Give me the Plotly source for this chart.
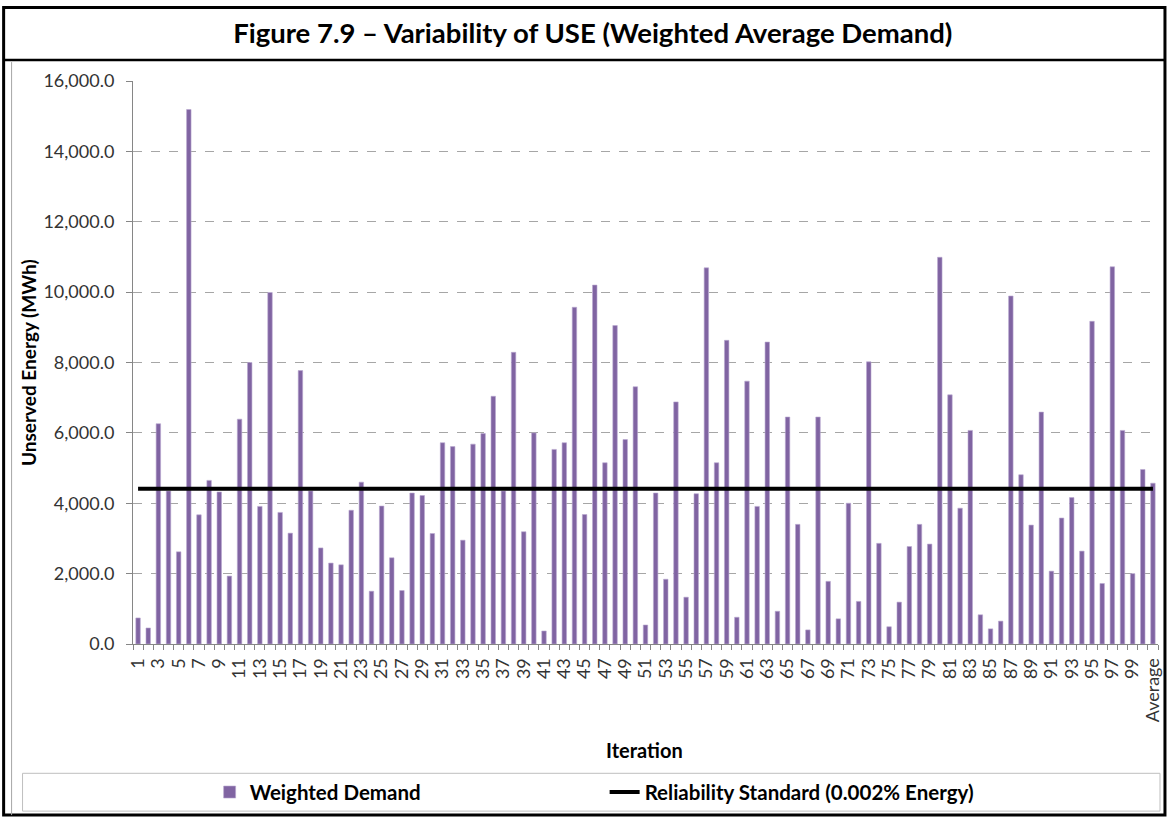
import plotly.graph_objects as go

categories = [str(i) for i in range(1, 101)] + ["Average"]
weighted_demand = [
    740, 455, 6260, 4350, 2620, 15190, 3670, 4650, 4320, 1930,
    6390, 8000, 3910, 9990, 3740, 3150, 7770, 4350, 2730, 2300,
    2250, 3800, 4600, 1500, 3920, 2450, 1520, 4290, 4220, 3140,
    5720, 5610, 2950, 5680, 5980, 7040, 4350, 8290, 3190, 6000,
    370, 5530, 5720, 9570, 3680, 10200, 5150, 9050, 5810, 7310,
    540, 4290, 1840, 6880, 1330, 4270, 10690, 5150, 8630, 760,
    7470, 3910, 8580, 930, 6450, 3400, 400, 6450, 1780, 715,
    4000, 1210, 8020, 2860, 490, 1190, 2770, 3400, 2840, 10990,
    7080, 3860, 6070, 830, 430, 650, 9890, 4810, 3380, 6590,
    2070, 3580, 4160, 2640, 9170, 1720, 10720, 6070, 2000, 4960,
    4570,
]
reliability_standard = [4410] * len(categories)
tick_labels = [c for i, c in enumerate(categories) if i % 2 == 0]

x_pos = list(range(1, len(categories) + 1))
tick_vals = [x for i, x in enumerate(x_pos) if i % 2 == 0]

FONT = "Lato"
W, H = 1172, 821
L, R, T, B = 133, 1163, 81, 647


def px(x):
    return (x - L) / (R - L)


def py(y):
    return (B - y) / (B - T)


fig = go.Figure()
fig.add_trace(go.Bar(
    x=x_pos, y=weighted_demand, name="<b>Weighted Demand</b>",
    marker=dict(color="#8064A2", line=dict(color="#b9a8d0", width=0.6)),
))
fig.add_trace(go.Scatter(
    x=x_pos, y=reliability_standard, mode="lines",
    name="<b>Reliability Standard (0.002% Energy)</b>",
    line=dict(color="black", width=4),
))

shapes = [
    dict(type="rect", xref="paper", yref="paper", x0=px(3), x1=px(1170), y0=py(819), y1=py(7),
         line=dict(color="black", width=3), layer="above"),
    dict(type="line", xref="paper", yref="paper", x0=px(3), x1=px(1170), y0=py(60), y1=py(60),
         line=dict(color="black", width=2.5)),
    dict(type="line", xref="paper", yref="paper", x0=px(11), x1=px(11), y0=py(62), y1=py(819),
         line=dict(color="#a6a6a6", width=1)),
    dict(type="rect", xref="paper", yref="paper", x0=px(22), x1=px(1165), y0=py(815), y1=py(777),
         line=dict(color="#bfbfbf", width=1)),
]

annotations = [
    dict(text="<b>Unserved Energy (MWh)</b>", xref="paper", yref="paper", x=px(28), y=py(364),
         textangle=-90, showarrow=False, font=dict(family=FONT, size=19, color="black"),
         xanchor="center", yanchor="middle"),
    dict(text="<b>Iteration</b>", xref="paper", yref="paper", x=px(647), y=py(754),
         showarrow=False, font=dict(family=FONT, size=20, color="black"),
         xanchor="center", yanchor="middle"),
]

fig.update_layout(
    width=W, height=H,
    margin=dict(l=L, r=W - R, t=T, b=H - B),
    paper_bgcolor="white", plot_bgcolor="white",
    font=dict(family=FONT, color="#333333"),
    title=dict(text="<b>Figure 7.9 – Variability of USE (Weighted Average Demand)</b>",
               x=px(595), xanchor="center", xref="paper", y=1 - 33 / H, yanchor="middle",
               font=dict(family=FONT, size=27.5, color="black")),
    bargap=0.56,
    showlegend=True,
    legend=dict(orientation="h", x=px(210), xanchor="left", y=py(796), yanchor="middle",
                font=dict(family=FONT, size=20.5, color="black"),
                entrywidth=350, bgcolor="rgba(0,0,0,0)"),
    shapes=shapes,
    annotations=annotations,
)

fig.update_xaxes(
    range=[0.5, len(categories) + 0.5],
    tickmode="array", tickvals=tick_vals, ticktext=tick_labels,
    tickangle=-90, tickfont=dict(family=FONT, size=18, color="#333333"),
    ticklabelstandoff=6,
    showline=True, linecolor="#868686", linewidth=1,
    showgrid=False, zeroline=False,
    ticks="",
    minor=dict(ticks="outside", tick0=0.5, dtick=1, ticklen=5, tickcolor="#868686"),
)
fig.update_yaxes(
    range=[0, 16000], dtick=2000, tickformat=",.1f",
    tickfont=dict(family=FONT, size=18, color="#333333"),
    ticklabelstandoff=8,
    showline=True, linecolor="#868686", linewidth=1,
    ticks="outside", ticklen=6, tickcolor="#868686",
    showgrid=True, gridcolor="#a6a6a6", griddash="dash", gridwidth=1,
    zeroline=False,
)

fig.write_html(
    "out.html",
    config={"displayModeBar": False},
    post_script="document.body.style.margin='0';document.body.style.overflow='hidden';",
)
